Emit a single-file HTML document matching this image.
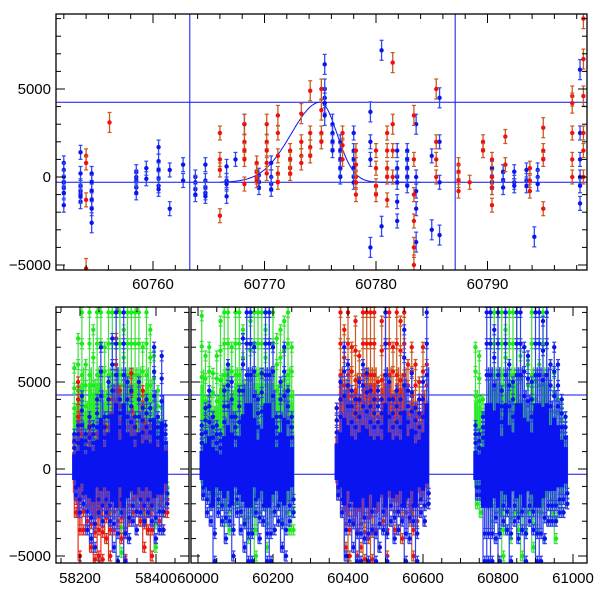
<!DOCTYPE html>
<html><head><meta charset="utf-8"><style>
body{margin:0;background:#fff}
svg{display:block;font-family:"Liberation Sans",sans-serif}
</style></head><body>
<svg id="c" width="600" height="600"></svg>
<script>
// ---------- TOP PANEL DATA ----------
const topBlueT=[60752.0,60753.5,60754.5,60758.5,60759.4,60760.5,60761.5,60762.7,60763.8,60764.7,60766.6,60767.4,60768.2,60769.5,60770.6,60775.4,60776.1,60776.8,60778.0,60779.5,60780.5,60781.9,60782.8,60783.6,60785.0,60785.7,60790.4,60791.4,60792.4,60793.5,60794.2,60794.5,60798.3];
const topBlueY=[[800,400,0,-300,-600,-900,-1600],[1400,200,-500,-800,-1000,-1400,-1100],[200,-300,-800,-1300,-1800,-2600],[300,0,-200,-600,-900],[500,-100],[1700,900,400,-100,-500,-700],[400,-1800],[700,-200],[0,-300,-700,-1000],[700,-200,-600,-900,-1100],[600,-200,-400,-1100],[1000],[3000],[100,-300,-600],[800,0,-400,-700],[6400,5000,4500,4200,3500],[3000,2500,2000,1500],[2000,1500,1000,500,0],[2500,1500,1000,500,0,-300],[3700,2000,1000,-4000],[7200,-2800],[1500,500,0,-300,-1400,-2500],[1500,1000,500,0,-500],[3000,0,-800,-1800,-3700],[1200,-3000],[4500,2000,-300,-3300],[500,0,-300,-600],[300,-200,-600],[300,-300,-500],[400,-200,-500],[-3400],[400,0,-400],[6100,2500,1000,0,-500,-1500]];
const topRedT=[60754.0,60756.1,60766.0,60768.2,60769.3,60770.2,60771.2,60772.3,60773.3,60774.1,60775.1,60777.0,60778.2,60780.0,60781.0,60781.5,60783.4,60785.4,60787.4,60788.4,60789.6,60790.4,60791.6,60793.8,60795.0,60797.6,60798.6];
const topRedY=[[1200,800,-1300,-5200],[3100],[2500,1000,400,-2200],[3000,2000,1500,1000,-400],[800,300,0,-200],[3000,2000,1500,800,200],[3500,2500,1200,200,-300],[1500,1000,500,200],[3600,2000,1200,800],[4900,2500,1700,1200],[5000,3800,2500,2000],[2500,1800,1000],[1500,700,0,-300,-1000],[1500,500,-500,-1000],[2500,1500,500,0,-1300],[6500,3000,1500,0],[3500,1000,-1000,-2500,-4000,-5000],[5000,2000,1000,0],[700,300,-200,-800],[-300],[2000,1500],[1000,0,-600,-1600],[2300,700],[500,-200,-800],[2800,1500,1000,-1800],[4600,4200,2500,1000,0],[9000,6700,4600,2500,1500,0]];
const topYTicks=[-5000,0,5000];
const topXTicks=[60760,60770,60780,60790];
const hLines=[4250,-300];
const vLines=[60763.3,60787.1];
const peakT=60775, peakAmp=4550, baseLevel=-300, sigL=2.6, sigR=1.5;

// ---------- BOTTOM PANEL DATA ----------
const bT1=[58185,58195,58205,58215,58225,58235,58245,58255,58265,58275,58285,58295,58305,58315,58325,58335,58345,58355,58365,58375,58385,58395,58405,58415,58425];
const greenHi1=[5800,7500,9000,6000,9000,8000,9000,9000,7000,9000,9000,9000,9000,8000,9000,9000,9000,9000,7000,9000,8000,6500,4500,3500,2500];
const greenLo1=[-1500,-1500,-2000,-1500,-2000,-2500,-2000,-3000,-2000,-3500,-2500,-2000,-4800,-2500,-3000,-2500,-2000,-3000,-2500,-3500,-2000,-4500,-2000,-2500,-1500];
const redHi1=[1500,5000,2000,1500,2500,1500,2000,2500,2500,3000,4000,7500,4500,3000,3000,5500,2500,2000,4500,2500,2500,2000,1500,1500,1200];
const redLo1=[-2500,-5000,-3500,-3000,-4500,-5200,-5000,-5200,-4000,-5000,-3500,-3000,-4000,-5200,-3000,-2500,-3500,-3000,-4500,-3500,-5000,-4000,-3000,-3500,-2500];
const blueHi1=[2000,2500,4200,2000,3000,2500,4000,7000,3000,5000,7500,9000,4000,9000,5000,4500,3000,5000,3500,4000,3500,7000,3000,6500,2500];
const blueLo1=[-1500,-2500,-2000,-3500,-4000,-4500,-2500,-3000,-2500,-3000,-4500,-5300,-2500,-5300,-4000,-3000,-3500,-2500,-3000,-2500,-3000,-4000,-3500,-3500,-2000];

const bT2=[60010,60020,60030,60040,60050,60060,60070,60080,60090,60100,60110,60120,60130,60140,60150,60160,60170,60180,60190,60200,60210,60220,60230,60240,60250];
const greenHi2=[8800,6500,7000,5500,6500,8500,9000,9000,7000,9000,9000,8000,9000,8500,9000,9000,9000,8000,9000,9000,7500,8000,8500,9000,7000];
const greenLo2=[-1500,-1500,-2000,-1500,-2000,-2000,-3000,-3500,-2000,-2000,-2500,-3000,-4000,-3500,-5000,-2500,-3000,-4500,-2500,-3500,-2000,-3000,-2500,-3500,-3500];
const blueHi2=[2500,3500,4500,3000,2500,2000,4500,6000,5000,3000,4500,7500,9000,9000,7000,4000,5500,9000,9000,7000,3000,5000,7000,4500,3000];
const blueLo2=[-1500,-2500,-3000,-5300,-2500,-3000,-4000,-3000,-5000,-2500,-3500,-4500,-5300,-5300,-2500,-4000,-3000,-5300,-5300,-3500,-3000,-4500,-5000,-3000,-2500];

const bT3=[60370,60380,60390,60400,60410,60420,60430,60440,60450,60460,60470,60480,60490,60500,60510,60520,60530,60540,60550,60560,60570,60580,60590,60600,60610];
const redHi3=[3500,9000,8000,9000,7000,8500,6500,9000,9000,9000,9000,5000,8500,9000,9000,7000,9000,8500,9000,6000,7000,6000,5000,7000,6000];
const redLo3=[-1500,-2500,-4500,-5000,-3000,-5000,-4500,-5200,-4000,-5200,-3500,-4500,-3000,-5000,-3000,-3500,-3500,-4000,-2500,-3000,-5000,-3000,-2500,-3000,-2000];
const blueHi3=[3500,5000,7000,6000,4500,4000,5000,6000,5500,4500,4000,4500,4000,9000,5000,4000,4500,4000,8000,4500,5500,3500,4000,5000,9000];
const blueLo3=[-1500,-2500,-5000,-3000,-4500,-5300,-5300,-4000,-5300,-3500,-5300,-4500,-3500,-5300,-3000,-4000,-3500,-3000,-5300,-4000,-3000,-5300,-2500,-3000,-2000];

const bT4=[60740,60750,60760,60770,60780,60790,60800,60810,60820,60830,60840,60850,60860,60870,60880,60890,60900,60910,60920,60930,60940,60950,60960,60970,60980];
const greenHi4=[7000,6500,4000,3000,9000,9000,9000,9000,8000,9000,9000,9000,6500,7000,6000,9000,5000,6000,9000,9000,6000,5500,4000,3500,3000];
const greenLo4=[-2000,-2500,-1500,-2000,-3000,-2500,-3500,-5000,-3500,-4000,-2500,-3500,-5000,-3500,-2500,-4500,-3500,-2500,-4000,-3000,-2500,-4000,-2000,-2500,-2000];
const blueHi4=[2500,2000,3000,9000,9000,8000,9000,4500,9000,6000,5000,9000,9000,7000,6500,5000,9000,9000,8500,9000,6000,7000,6000,4000,3000];
const blueLo4=[-1500,-1500,-5300,-5300,-5300,-4000,-5300,-3000,-3500,-5300,-3000,-4000,-3500,-5300,-3000,-3500,-5300,-5300,-4000,-3000,-3000,-3000,-2500,-2500,-2000];
const coreFracHi=0.42, coreFracLo=0.42;
const botXTicks1=[58200,58400];
const botXTicks2=[60000,60200,60400,60600,60800,61000];

// ---------- DRAWING ----------
const NS='http://www.w3.org/2000/svg';
const svg=document.getElementById('c');
function el(tag,attrs,parent){const e=document.createElementNS(NS,tag);for(const k in attrs)e.setAttribute(k,attrs[k]);(parent||svg).appendChild(e);return e;}
const BLUE='#0a14f0',RED='#f01010',GREEN='#14f014';

const tX=t=>153+(t-60760)*11.15;
const tY=v=>177-v*0.0176;
const TL=56,TR=587,TT=14,TB=270;
const topG=el('g',{});


const tclip=el('clipPath',{id:'tc'});el('rect',{x:TL,y:TT,width:TR-TL,height:TB-TT},tclip);
const topPlot=el('g',{'clip-path':'url(#tc)'},topG);
function errPoint(g,x,y,col,capCol,e){
  el('line',{x1:x,y1:y-e,x2:x,y2:y+e,stroke:capCol,'stroke-width':1.3},g);
  el('line',{x1:x-2,y1:y-e,x2:x+2,y2:y-e,stroke:capCol,'stroke-width':1.2},g);
  el('line',{x1:x-2,y1:y+e,x2:x+2,y2:y+e,stroke:capCol,'stroke-width':1.2},g);
  el('circle',{cx:x,cy:y,r:2.2,fill:col},g);
}
hLines.forEach(v=>{const l=el('line',{x1:TL,x2:TR,y1:tY(v),y2:tY(v),stroke:BLUE,'stroke-width':1},topPlot);});
vLines.forEach(t=>{const l=el('line',{x1:tX(t),x2:tX(t),y1:TT,y2:TB,stroke:BLUE,'stroke-width':1},topPlot);});
let d='';
for(let t=60766;t<=60784;t+=0.1){const s=t<peakT?sigL:sigR;const v=baseLevel+peakAmp*Math.exp(-((t-peakT)**2)/(2*s*s));d+=(d?'L':'M')+tX(t).toFixed(1)+','+tY(v).toFixed(1);}
const curve=el('path',{d:d,fill:'none',stroke:BLUE,'stroke-width':1},topPlot);

const tb=el('g',{},topPlot);
topBlueT.forEach((t,i)=>topBlueY[i].forEach(v=>errPoint(tb,tX(t),tY(v),BLUE,'#3048f0',Math.abs(v)>2500?10:7)));
const tr=el('g',{},topPlot);
topRedT.forEach((t,i)=>topRedY[i].forEach(v=>errPoint(tr,tX(t),tY(v),RED,'#c85a1e',Math.abs(v)>2500?10:7)));

function frame(g,L,R,T,B,xt,xfn,yfn,xMinor,xMinorStep){
  el('rect',{x:L,y:T,width:R-L,height:B-T,fill:'none',stroke:'#000','stroke-width':1.3},g);
  for(let v=-5000;v<=9000;v+=1000){const y=yfn(v);if(y<T||y>B)continue;const len=v%5000===0?9:5;
    el('line',{x1:L,x2:L+len,y1:y,y2:y,stroke:'#000'},g);el('line',{x1:R,x2:R-len,y1:y,y2:y,stroke:'#000'},g);}
  for(let t=xMinor[0];t<=xMinor[1];t+=xMinorStep){const x=xfn(t);if(x<L||x>R)continue;const len=xt.includes(t)?9:5;
    el('line',{x1:x,x2:x,y1:B,y2:B-len,stroke:'#000'},g);el('line',{x1:x,x2:x,y1:T,y2:T+len,stroke:'#000'},g);}
}
frame(topG,TL,TR,TT,TB,topXTicks,tX,tY,[60750,60800],2);
topYTicks.forEach(v=>{const t=el('text',{x:51,y:tY(v)+5,'text-anchor':'end','font-size':15},topG);t.textContent=String(v).replace('-','\u2212');});
topXTicks.forEach(v=>{const t=el('text',{x:tX(v),y:289,'text-anchor':'middle','font-size':15},topG);t.textContent=v;});

// bottom
const bY=v=>469-v*0.0174;
const BT=307,BB=563;
const bx1=t=>80+(t-58200)*0.38;
const bx2=t=>198+(t-60000)*0.375;
const S1L=56,S1R=189,S2L=191,S2R=587;
const botG=el('g',{});
const c1=el('clipPath',{id:'b1'});el('rect',{x:S1L,y:BT,width:S1R-S1L,height:BB-BT},c1);
const c2=el('clipPath',{id:'b2'});el('rect',{x:S2L,y:BT,width:S2R-S2L,height:BB-BT},c2);
const p1=el('g',{'clip-path':'url(#b1)'},botG),p2=el('g',{'clip-path':'url(#b2)'},botG);
[p1,p2].forEach((p,k)=>hLines.forEach(v=>{const l=el('line',{x1:k?S2L:S1L,x2:k?S2R:S1R,y1:bY(v),y2:bY(v),stroke:BLUE},p);}));
function envelope(p,name,ts,hi,lo,xfn,col,cap,core){
  const g=el('g',{},p);
  ts.forEach((t,i)=>{const x=xfn(t);
    const yh=bY(hi[i]),yl=bY(lo[i]);
    el('line',{x1:x,x2:x,y1:yh-5,y2:yl+5,stroke:cap,'stroke-width':1.2},g);
    el('line',{x1:x+1.8,x2:x+1.8,y1:bY(hi[i]*0.65),y2:bY(lo[i]*0.65),stroke:cap,'stroke-width':1.5},g);
    [hi[i],hi[i]*0.8,hi[i]*0.6,lo[i],lo[i]*0.7].forEach(v=>errPoint(g,x+(v>0?0:1.8),bY(v),col,cap,5));
    if(core){
      el('rect',{x:x-2.2,y:bY(hi[i]*coreFracHi),width:4.4,height:bY(lo[i]*coreFracLo)-bY(hi[i]*coreFracHi),fill:col},g);
    } else {
      el('rect',{x:x-1.5,y:bY(hi[i]*0.55),width:3,height:bY(lo[i]*0.55)-bY(hi[i]*0.55),fill:col,opacity:0.8},g);
    }
  });
}
envelope(p1,'green-series-a',bT1,greenHi1,greenLo1,bx1,GREEN,'#40e040',false);
envelope(p1,'red-series-a',bT1,redHi1,redLo1,bx1,RED,'#e03020',false);
envelope(p1,'blue-series-a',bT1,blueHi1,blueLo1,bx1,BLUE,'#3040f0',true);
envelope(p2,'green-series-b',bT2,greenHi2,greenLo2,bx2,GREEN,'#40e040',false);
envelope(p2,'blue-series-b',bT2,blueHi2,blueLo2,bx2,BLUE,'#3040f0',true);
envelope(p2,'red-series-c',bT3,redHi3,redLo3,bx2,RED,'#c85a1e',false);
envelope(p2,'blue-series-c',bT3,blueHi3,blueLo3,bx2,BLUE,'#3040f0',true);
envelope(p2,'green-series-d',bT4,greenHi4,greenLo4,bx2,GREEN,'#40e040',false);
envelope(p2,'blue-series-d',bT4,blueHi4,blueLo4,bx2,BLUE,'#3040f0',true);
frame(botG,S1L,S1R,BT,BB,botXTicks1,bx1,bY,[58150,58500],50);
frame(botG,S2L,S2R,BT,BB,botXTicks2,bx2,bY,[59950,61050],50);
topYTicks.forEach(v=>{const t=el('text',{x:51,y:bY(v)+5,'text-anchor':'end','font-size':15},botG);t.textContent=String(v).replace('-','\u2212');});
botXTicks1.forEach(v=>{const t=el('text',{x:bx1(v),y:583,'text-anchor':'middle','font-size':15},botG);t.textContent=v;});
botXTicks2.forEach(v=>{const t=el('text',{x:bx2(v),y:583,'text-anchor':'middle','font-size':15},botG);t.textContent=v;});
</script>
</body></html>
